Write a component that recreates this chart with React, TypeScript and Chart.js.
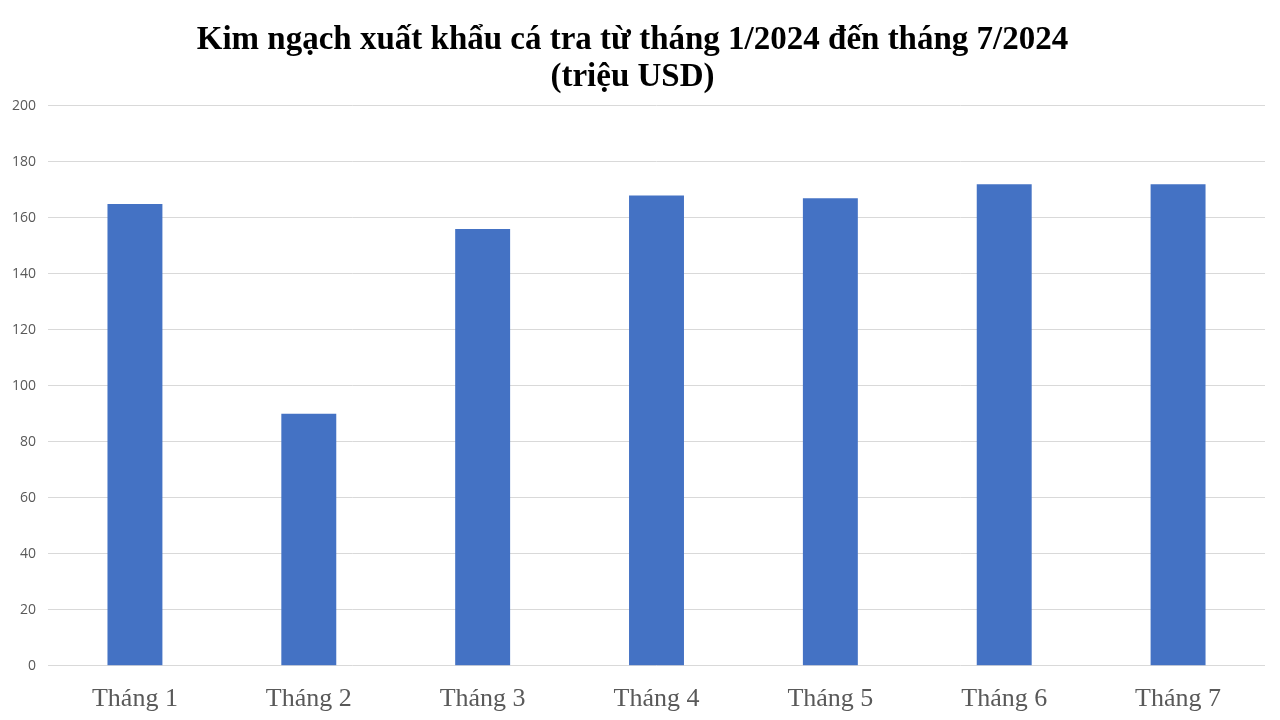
import React, { useEffect, useRef } from "react";
import { Chart, registerables } from "chart.js";

Chart.register(...registerables);

const categories = ["Tháng 1", "Tháng 2", "Tháng 3", "Tháng 4", "Tháng 5", "Tháng 6", "Tháng 7"];
const values = [165, 90, 156, 168, 167, 172, 172];
const titleLines = ["Kim ngạch xuất khẩu cá tra từ tháng 1/2024 đến tháng 7/2024", "(triệu USD)"];
const yMin = 0;
const yMax = 200;
const yStep = 20;

export default function App() {
  const ref = useRef<HTMLCanvasElement | null>(null);
  useEffect(() => {
    document.body.style.margin = "0";
    const ctx = ref.current!;
    const chart = new Chart(ctx, {
      type: "bar",
      data: {
        labels: categories,
        datasets: [
          {
            data: values,
            backgroundColor: "#4472C4",
            categoryPercentage: 1,
            barPercentage: 0.316,
          },
        ],
      },
      options: {
        animation: false,
        responsive: false,
        maintainAspectRatio: false,
        layout: { padding: { left: 0, right: 15, top: 0, bottom: -5 } },
        plugins: {
          legend: { display: false },
          tooltip: { enabled: false },
          title: {
            display: true,
            text: titleLines,
            color: "#000000",
            font: { family: "'Liberation Serif', 'Times New Roman', serif", size: 33, weight: "bold", lineHeight: 1.15 },
            padding: { top: 21, bottom: 9 },
          },
        },
        scales: {
          x: {
            grid: { display: false },
            border: { display: false },
            ticks: {
              color: "#595959",
              font: { family: "'Liberation Serif', 'Times New Roman', serif", size: 26 },
              padding: 10,
            },
          },
          y: {
            min: yMin,
            max: yMax,
            grid: { color: "#d9d9d9", drawTicks: false },
            border: { display: false },
            ticks: {
              stepSize: yStep,
              color: "#595959",
              font: { family: "'Open Sans', 'Noto Sans', sans-serif", size: 14 },
              padding: 12,
            },
          },
        },
      },
    });
    return () => chart.destroy();
  }, []);
  return (
    <div style={{ position: "absolute", left: 0, top: 0, width: 1280, height: 720, background: "#fff" }}>
      <canvas ref={ref} width={1280} height={720} style={{ width: 1280, height: 720 }} />
    </div>
  );
}
